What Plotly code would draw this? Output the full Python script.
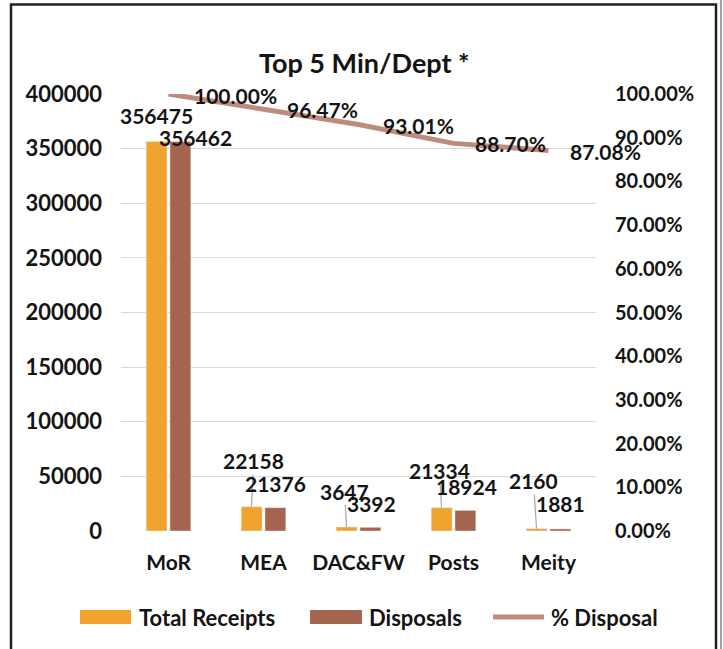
import plotly.graph_objects as go

categories = ["MoR", "MEA", "DAC&FW", "Posts", "Meity"]
total_receipts = [356475, 22158, 3647, 21334, 2160]
disposals = [356462, 21376, 3392, 18924, 1881]
pct_disposal = [1.0, 0.9647, 0.9301, 0.8870, 0.8708]
left_ticks = [0, 50000, 100000, 150000, 200000, 250000, 300000, 350000, 400000]
right_ticks = [i / 10 for i in range(11)]

W, H = 723, 649
L, R, T, B = 121, 127, 94, 118
PW, PH = W - L - R, H - T - B

def px(xp):
    return (xp - L) / PW

def py(yp):
    return (H - B - yp) / PH

FONT = "Lato"
TXT = "#141414"
ORANGE = "#F0A32F"
BROWN = "#A5644E"
LINE = "#BD8C7E"

fig = go.Figure()
fig.add_trace(go.Bar(x=categories, y=total_receipts, name="Total Receipts",
                     marker_color=ORANGE, yaxis="y"))
fig.add_trace(go.Bar(x=categories, y=disposals, name="Disposals",
                     marker_color=BROWN, yaxis="y"))
fig.add_trace(go.Scatter(x=categories, y=pct_disposal, name="% Disposal",
                         mode="lines", line=dict(color=LINE, width=5), yaxis="y2"))

ann = []
# Total Receipts labels: (dx, dy, leader)
rec_pos = [(0, -26, False), (2, -46, True), (-2, -36, True), (-2, -37, True), (-3, -48, True)]
for c, v, (dx, dy, lead) in zip(categories, total_receipts, rec_pos):
    if lead:
        ann.append(dict(x=c, y=v, xref="x", yref="y", xshift=-12, text=f"<b>{v}</b>",
                        showarrow=True, ax=dx, ay=dy, arrowhead=0, arrowwidth=1.2,
                        arrowcolor="#A6A6A6", standoff=0,
                        font=dict(family=FONT, size=21, color=TXT)))
    else:
        ann.append(dict(x=c, y=v, xref="x", yref="y", xshift=-12 + dx, yshift=-dy,
                        text=f"<b>{v}</b>", showarrow=False, yanchor="middle",
                        font=dict(family=FONT, size=21, color=TXT)))
dis_pos = [(14, -4), (-1, -24), (0, -24), (0, -24), (-1, -25)]
for c, v, (dx, dy) in zip(categories, disposals, dis_pos):
    ann.append(dict(x=c, y=v, xref="x", yref="y", xshift=13 + dx, yshift=-dy,
                    text=f"<b>{v}</b>", showarrow=False, yanchor="middle",
                    font=dict(family=FONT, size=21, color=TXT)))
pct_pos = [(67, -1), (59, 0), (60, -1), (57, 0), (57, -1)]
for c, v, (dx, dy) in zip(categories, pct_disposal, pct_pos):
    ann.append(dict(x=c, y=v, xref="x", yref="y2", xshift=dx, yshift=dy,
                    text=f"<b>{v*100:.2f}%</b>", showarrow=False, yanchor="middle",
                    font=dict(family=FONT, size=21, color=TXT)))

# title
ann.append(dict(x=px(364), y=py(44), xref="paper", yref="paper", text="<b>Top 5 Min/Dept *</b>",
                showarrow=False, font=dict(family=FONT, size=27, color=TXT)))

# manual legend
shapes = []
leg_y = 617
shapes.append(dict(type="rect", xref="paper", yref="paper", x0=px(80), x1=px(131),
                   y0=py(leg_y - 7), y1=py(leg_y + 7), fillcolor=ORANGE, line_width=0))
shapes.append(dict(type="rect", xref="paper", yref="paper", x0=px(310), x1=px(362),
                   y0=py(leg_y - 7), y1=py(leg_y + 7), fillcolor=BROWN, line_width=0))
shapes.append(dict(type="line", xref="paper", yref="paper", x0=px(493), x1=px(544),
                   y0=py(leg_y), y1=py(leg_y), line=dict(color=LINE, width=5)))
for x0, t in [(137, "Total Receipts"), (367, "Disposals"), (549, "% Disposal")]:
    ann.append(dict(x=px(x0), y=py(leg_y), xref="paper", yref="paper", text=f"<b>{t}</b>",
                    xanchor="left", yanchor="middle", showarrow=False,
                    font=dict(family=FONT, size=22, color=TXT)))

# frame
shapes.append(dict(type="rect", xref="paper", yref="paper", x0=px(11), x1=px(716),
                   y0=py(660), y1=py(4.5), line=dict(color="#222222", width=2.5),
                   fillcolor="rgba(0,0,0,0)"))
shapes.append(dict(type="line", xref="paper", yref="paper", x0=px(721), x1=px(721),
                   y0=py(660), y1=py(0), line=dict(color="#5a3a3a", width=1)))

fig.update_layout(
    width=W, height=H,
    margin=dict(l=L, r=R, t=T, b=B, pad=0),
    paper_bgcolor="white", plot_bgcolor="white",
    barmode="group", bargap=0.5, bargroupgap=0.12,
    showlegend=False,
    font=dict(family=FONT, color=TXT),
    xaxis=dict(type="category", range=[-0.5, 4.5], showgrid=False, zeroline=False,
               showline=False, ticks="", tickfont=dict(family=FONT, size=21, color=TXT),
               ticklabelstandoff=17),
    yaxis=dict(range=[0, 400000], tickvals=left_ticks, ticktext=[f"<b>{v}</b>" for v in left_ticks],
               showgrid=True, gridcolor="#D9D9D9", gridwidth=1.3, zeroline=False,
               showline=False, ticks="", tickfont=dict(family=FONT, size=22, color=TXT),
               ticklabelstandoff=18),
    yaxis2=dict(range=[0, 1], tickvals=right_ticks, ticktext=[f"<b>{v*100:.2f}%</b>" for v in right_ticks],
                overlaying="y", side="right", showgrid=False, zeroline=False, showline=False,
                ticks="", tickfont=dict(family=FONT, size=20, color=TXT), ticklabelstandoff=18),
    annotations=ann, shapes=shapes,
)
fig.update_xaxes(ticktext=[f"<b>{c}</b>" for c in categories], tickvals=categories)
fig.write_html("out.html", config={"displayModeBar": False},
               post_script="document.body.style.margin='0';document.body.style.overflow='hidden';")
